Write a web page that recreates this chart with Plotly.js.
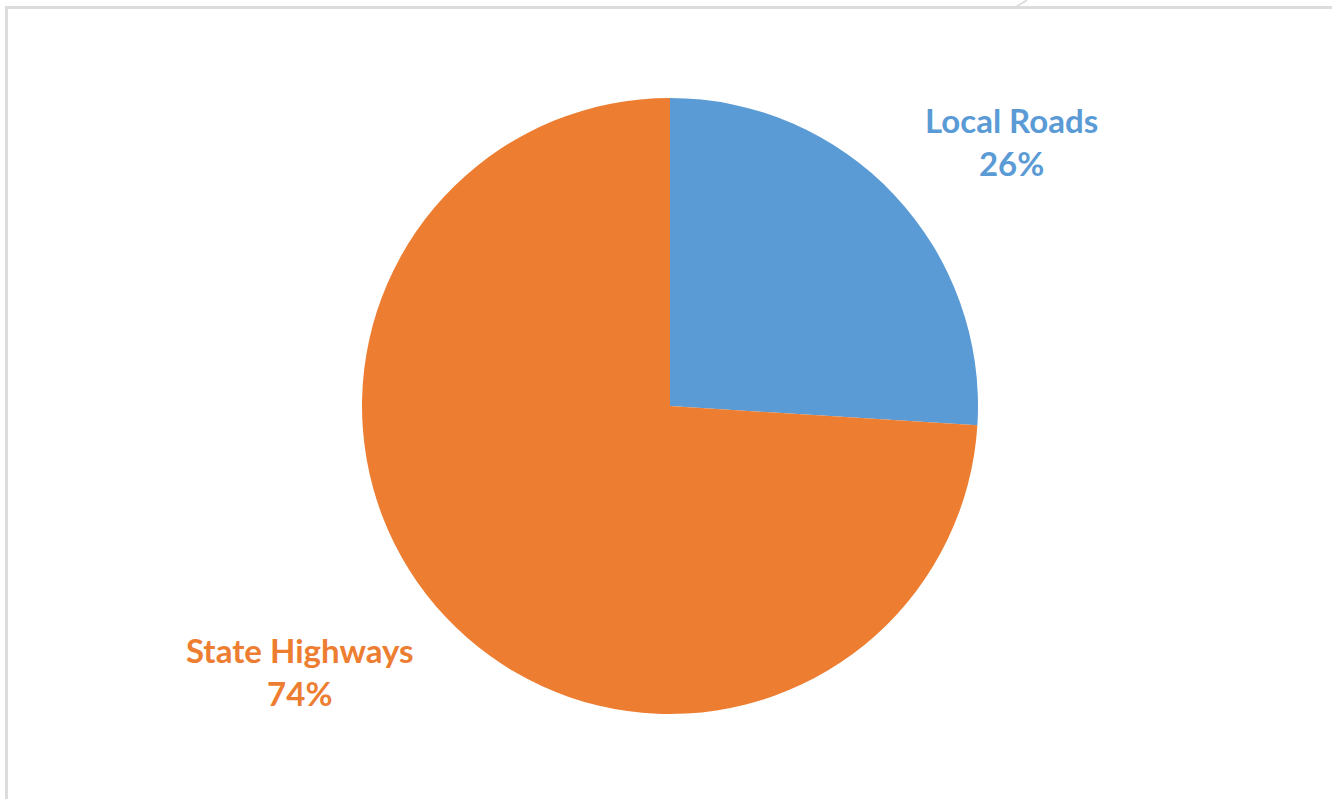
<!DOCTYPE html>
<html>
<head>
<meta charset="utf-8">
<script src="https://cdn.plot.ly/plotly-3.0.1.min.js"></script>
<style>html,body{margin:0;padding:0;background:#fff;}#chart{width:1332px;height:799px;}</style>
</head>
<body>
<div id="chart"></div>
<script>
var categories = ["Local Roads", "State Highways"];
var shares = [26, 74];
var colors = ["#5b9bd5", "#ed7d31"];

var W = 1332, H = 799;
var cx = 670, cy = 406, r = 308;

var trace = {
  type: "pie",
  labels: categories,
  values: shares,
  sort: false,
  direction: "clockwise",
  rotation: 0,
  textinfo: "none",
  hoverinfo: "label+percent",
  marker: { colors: colors, line: { width: 0 } },
  domain: {
    x: [(cx - r) / W, (cx + r) / W],
    y: [(H - cy - r) / H, (H - cy + r) / H]
  },
  showlegend: false
};

var total = shares.reduce(function (a, b) { return a + b; }, 0);
var labelPos = [[1011, 141], [300, 671]];
var annotations = categories.map(function (c, i) {
  return {
    xref: "paper", yref: "paper",
    x: labelPos[i][0] / W, y: 1 - labelPos[i][1] / H,
    xanchor: "center", yanchor: "middle",
    text: "<b>" + c + "<br>" + Math.round(shares[i] / total * 100) + "%</b>",
    showarrow: false,
    align: "center",
    font: { family: "Lato, 'Open Sans', sans-serif", size: 33, color: colors[i] }
  };
});

var frame = { color: "#dcdcdc", width: 3 };
var shapes = [
  { type: "line", xref: "paper", yref: "paper", x0: 5 / W, x1: 1, y0: 1 - 7.5 / H, y1: 1 - 7.5 / H, line: frame },
  { type: "line", xref: "paper", yref: "paper", x0: 6.5 / W, x1: 6.5 / W, y0: 0, y1: 1 - 6 / H, line: frame },
  { type: "line", xref: "paper", yref: "paper", x0: 1016 / W, x1: 1027 / W, y0: 1 - 7 / H, y1: 1, line: { color: "#d9d9d9", width: 1.5 } }
];

var layout = {
  width: W, height: H,
  margin: { l: 0, r: 0, t: 0, b: 0 },
  paper_bgcolor: "#ffffff",
  annotations: annotations,
  shapes: shapes
};

Plotly.newPlot("chart", [trace], layout, { displayModeBar: false, staticPlot: true });
</script>
</body>
</html>
